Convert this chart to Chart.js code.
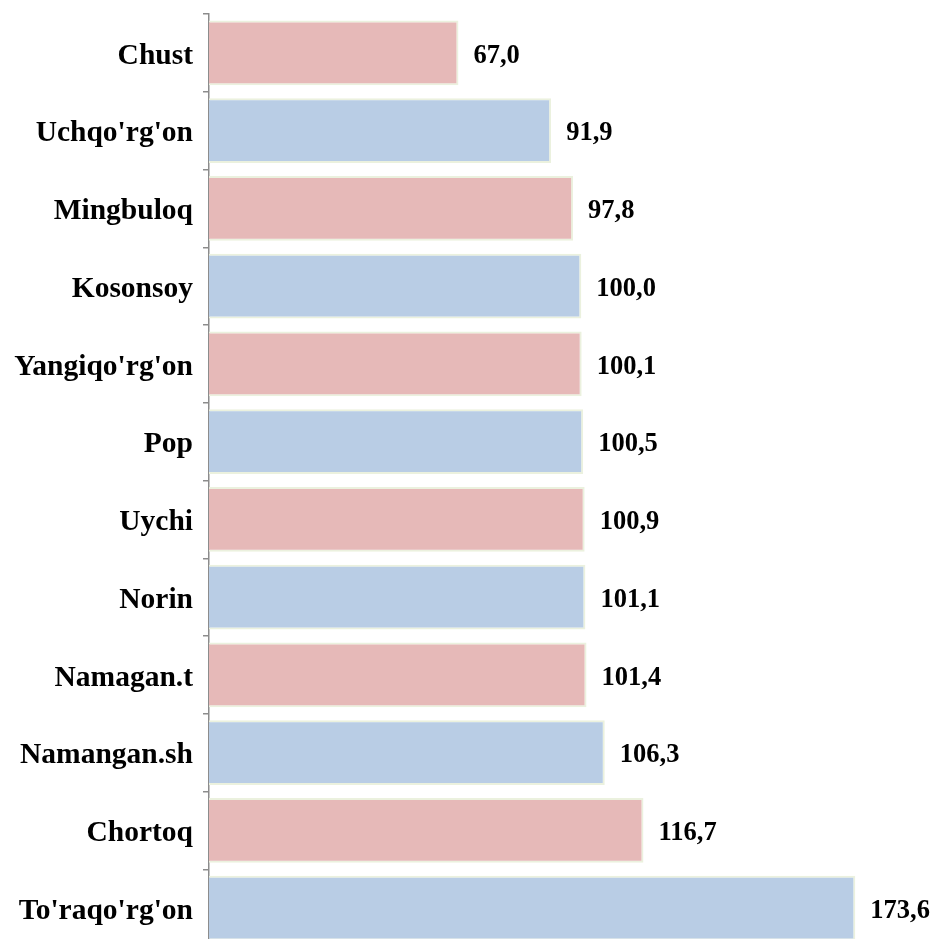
<!DOCTYPE html>
<html>
<head>
<meta charset="utf-8">
<script src="https://cdn.jsdelivr.net/npm/chart.js@4.4.1/dist/chart.umd.min.js"></script>
<style>
  html, body { margin: 0; padding: 0; background: #fff; overflow: hidden; }
  #wrap { width: 935px; height: 948px; position: relative; }
</style>
</head>
<body>
<div id="wrap"><canvas id="chart"></canvas></div>
<script>
// dados
const categorias = ["Chust", "Uchqo'rg'on", "Mingbuloq", "Kosonsoy", "Yangiqo'rg'on", "Pop", "Uychi", "Norin", "Namagan.t", "Namangan.sh", "Chortoq", "To'raqo'rg'on"];
const valores = [67.0, 91.9, 97.8, 100.0, 100.1, 100.5, 100.9, 101.1, 101.4, 106.3, 116.7, 173.6];
const corRosa = "#E6B9B8",
    corAzul = "#B9CDE5",
    corBorda = "#EBF1DE";

const FONTE = "'Liberation Serif', 'Times New Roman', serif";

// rótulos de valor à direita das barras (sem plugin externo)
const rotulosValor = {
    id: "rotulosValor",
    afterDatasetsDraw(chart) {
        const ctx = chart.ctx,
            meta = chart.getDatasetMeta(0);
        ctx.save();
        ctx.font = "bold 26.5px " + FONTE;
        ctx.fillStyle = "#000";
        ctx.textBaseline = "middle";
        ctx.textAlign = "left";
        meta.data.forEach((b, i) => {
            ctx.fillText(valores[i].toFixed(1).replace(".", ","), b.x + 15, b.y + 3);
        });
        ctx.restore();
    },
};

new Chart(document.getElementById("chart"), {
    type: "bar",
    data: {
        labels: categorias,
        datasets: [{
            data: valores,
            backgroundColor: valores.map((v, i) => (i % 2 === 0 ? corRosa : corAzul)),
            borderColor: corBorda,
            borderWidth: 2,
            barPercentage: 0.83,
            categoryPercentage: 1,
        }],
    },
    options: {
        indexAxis: "y",
        responsive: true,
        maintainAspectRatio: false,
        animation: false,
        layout: { padding: { top: 14, bottom: 1, right: 0, left: 0 } },
        plugins: { legend: { display: false }, tooltip: { enabled: false } },
        scales: {
            x: { display: false, min: 0, max: 195 },
            y: {
                afterFit: (s) => {
                    s.width = 209;
                    s.paddingTop = 0;
                    s.paddingBottom = 0;
                },
                border: { display: true, color: "#8c8c8c", width: 1.5 },
                grid: { offset: true, drawOnChartArea: false, drawTicks: true, tickLength: 6, color: "#8c8c8c", lineWidth: 1.5 },
                ticks: { color: "#000", padding: 10, labelOffset: 3, font: { family: FONTE, size: 29.5, weight: "bold" } },
            },
        },
    },
    plugins: [rotulosValor],
});
</script>
</body>
</html>
